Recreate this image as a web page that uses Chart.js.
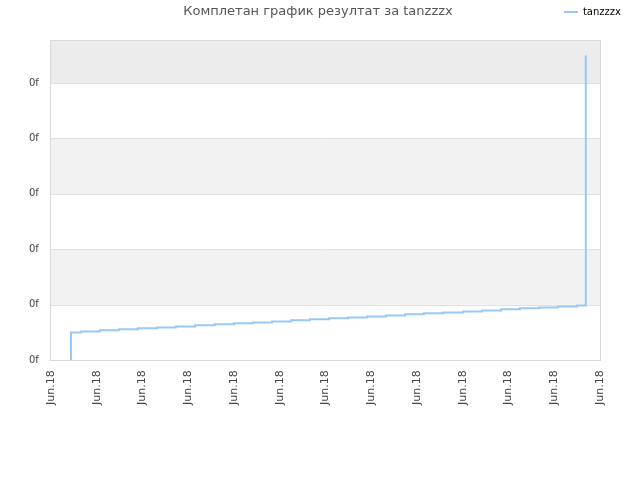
<!DOCTYPE html>
<html>
<head>
<meta charset="utf-8">
<script src="https://cdn.jsdelivr.net/npm/chart.js@4/dist/chart.umd.min.js"></script>
<style>
  html, body { margin: 0; padding: 0; background: #fff; }
  #wrap { width: 640px; height: 480px; }
</style>
</head>
<body>
<div id="wrap"><canvas id="resultChart"></canvas></div>
<script>
const title = "Комплетан график резултат за tanzzzx";
const seriesName = "tanzzzx";
const tickLabel = "Jun.18";
const yLabel = "0f";

// step positions along the date axis and the level reached at each one
const xs = [0.44, 0.44, 0.66, 1.07, 1.49, 1.90, 2.32, 2.73, 3.15, 3.58, 4.00, 4.42, 4.83, 5.25, 5.66,
  6.08, 6.49, 6.91, 7.32, 7.74, 8.15, 8.57, 9.01, 9.42, 9.84, 10.25, 10.67, 11.08, 11.50, 11.69];
const ys = [0, 0.50, 0.52, 0.54, 0.56, 0.58, 0.59, 0.61, 0.63, 0.65, 0.67, 0.68, 0.70, 0.72, 0.74,
  0.76, 0.77, 0.79, 0.81, 0.83, 0.85, 0.86, 0.88, 0.90, 0.92, 0.94, 0.95, 0.97, 0.99, 5.50];

const xMax = 12;
const yMax = 5.77;

const FONT = "'DejaVu Sans', sans-serif";

// alternating horizontal bands + frame around the plot, title text on the legend row
const bands = {
  id: "bands",
  beforeDatasetsDraw(chart) {
    const { ctx, chartArea: a, scales: { y } } = chart;
    const fills = ["#ffffff", "#f2f2f2", "#ffffff", "#f2f2f2", "#ffffff", "#ececec"];
    ctx.save();
    for (let i = 0; i < fills.length; i++) {
      const top = y.getPixelForValue(Math.min(i + 1, yMax));
      const bot = y.getPixelForValue(i);
      ctx.fillStyle = fills[i];
      ctx.fillRect(a.left, top, a.right - a.left, bot - top);
    }
    ctx.strokeStyle = "#e0e0e0";
    ctx.lineWidth = 1;
    for (let i = 1; i <= 5; i++) {
      const py = Math.round(y.getPixelForValue(i)) + 0.5;
      ctx.beginPath();
      ctx.moveTo(a.left, py);
      ctx.lineTo(a.right, py);
      ctx.stroke();
    }
    ctx.strokeStyle = "#d9d9d9";
    ctx.strokeRect(Math.round(a.left) - 0.5, Math.round(a.top) + 0.5,
      Math.round(a.right - a.left) + 1, Math.round(a.bottom - a.top));
    ctx.restore();
  },
  afterDraw(chart) {
    const ctx = chart.ctx;
    ctx.save();
    ctx.font = "13px " + FONT;
    ctx.fillStyle = "#555555";
    ctx.textAlign = "center";
    ctx.textBaseline = "middle";
    ctx.fillText(title, 318, 12);
    ctx.restore();
  }
};

new Chart(document.getElementById("resultChart"), {
  type: "line",
  data: {
    datasets: [{
      label: seriesName,
      data: xs.map((x, i) => ({ x: x, y: ys[i] })),
      stepped: true,
      borderColor: "#99c9f3",
      backgroundColor: "#99c9f3",
      borderWidth: 2,
      pointRadius: 0,
      fill: false
    }]
  },
  options: {
    responsive: true,
    maintainAspectRatio: false,
    animation: false,
    layout: { padding: { left: 17, right: 12, top: 0, bottom: 65 } },
    plugins: {
      title: { display: false },
      // empty box under the legend, only to keep the plot top at the right height
      subtitle: {
        display: true,
        text: "",
        weight: 500,
        font: { size: 1 },
        padding: { top: 0, bottom: 12 }
      },
      tooltip: { enabled: false },
      legend: {
        position: "top",
        align: "end",
        labels: {
          usePointStyle: true,
          pointStyle: "line",
          pointStyleWidth: 14,
          padding: 7,
          color: "#000",
          font: { family: FONT, size: 10 }
        }
      }
    },
    scales: {
      x: {
        type: "linear",
        min: 0,
        max: xMax,
        afterFit(s) { s.paddingRight = 40; },
        grid: { display: false, drawTicks: false },
        border: { display: false },
        ticks: {
          stepSize: 1,
          autoSkip: false,
          minRotation: 90,
          maxRotation: 90,
          padding: 10,
          color: "#444",
          font: { family: FONT, size: 11 },
          callback: () => tickLabel
        }
      },
      y: {
        min: 0,
        max: yMax,
        grid: { display: false, drawTicks: false },
        border: { display: false },
        ticks: {
          stepSize: 1,
          includeBounds: false,
          padding: 12,
          color: "#444",
          font: { family: FONT, size: 10 },
          callback: () => yLabel
        }
      }
    }
  },
  plugins: [bands]
});
</script>
</body>
</html>
